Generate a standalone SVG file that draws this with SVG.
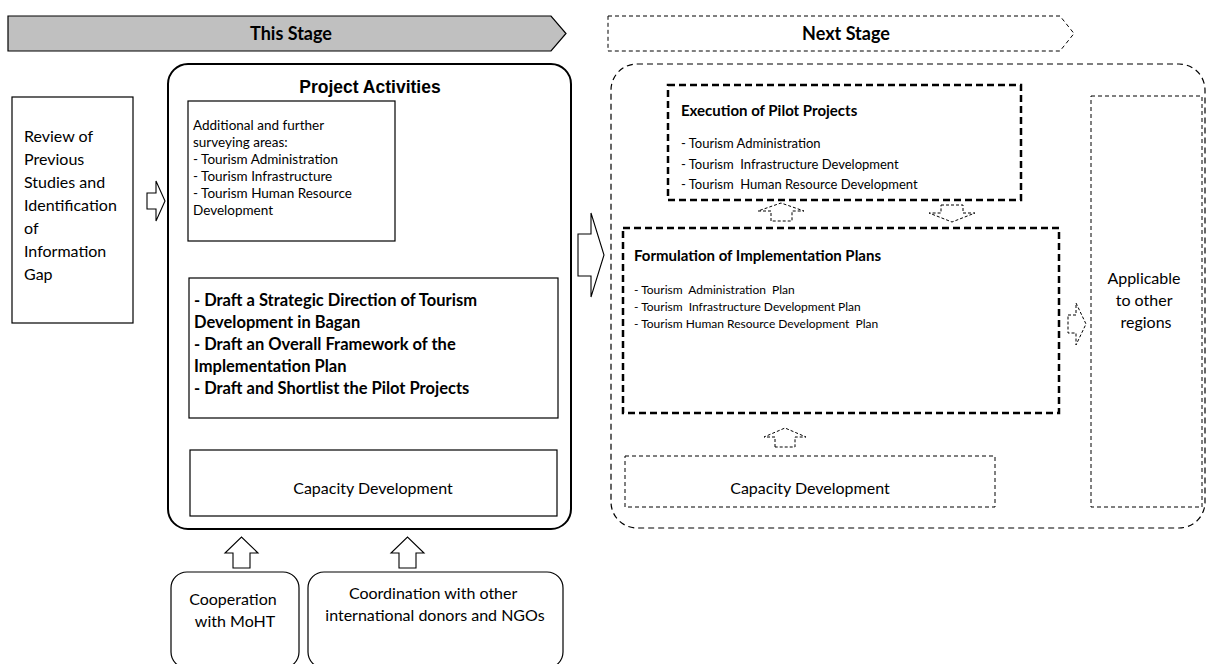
<svg xmlns="http://www.w3.org/2000/svg" width="1208" height="664" viewBox="0 0 1208 664">
<style>
.solid{fill:#fff;stroke:#000;stroke-width:1.2}
.t{font-family:Lato,"Liberation Sans",sans-serif;fill:#000}
.b{font-weight:bold}
.mid{text-anchor:middle}
.thick{fill:#fff;stroke:#000;stroke-width:2.5;stroke-dasharray:7 4}
.outer{fill:none;stroke:#000;stroke-width:1.2;stroke-dasharray:6 4}
.dash{fill:none;stroke:#000;stroke-width:1;stroke-dasharray:4 3}
.arrow{fill:#fff;stroke:#000;stroke-width:1.1;stroke-linejoin:miter}
.darrow{fill:#fff;stroke:#000;stroke-width:1;stroke-dasharray:3 2}
</style>
<rect width="1208" height="664" fill="#fff"/>
<g id="this-stage">
<polygon points="8,16 551,16 566,33.5 551,51 8,51" fill="#c0c0c0" stroke="#000" stroke-width="1.2"/>
<text class="t b mid" x="291" y="40" font-size="18">This Stage</text>
</g>
<g id="next-stage">
<polygon points="608,16 1060,16 1074,33.5 1060,51 608,51" class="dash"/>
<text class="t b mid" x="846" y="40" font-size="18">Next Stage</text>
</g>
<g id="review">
<rect class="solid" x="12" y="97" width="121" height="226"/>
<text class="t" font-size="16">
<tspan x="24" y="142">Review of</tspan>
<tspan x="24" y="165">Previous</tspan>
<tspan x="24" y="188">Studies and</tspan>
<tspan x="24" y="211">Identification</tspan>
<tspan x="24" y="234">of</tspan>
<tspan x="24" y="257">Information</tspan>
<tspan x="24" y="280">Gap</tspan>
</text>
</g>
<g id="project-activities">
<rect x="168" y="64" width="403" height="465" rx="20" fill="#fff" stroke="#000" stroke-width="2"/>
<text x="370" y="93" font-family="Liberation Sans,Arial,sans-serif" font-weight="bold" font-size="17.5" text-anchor="middle">Project Activities</text>
</g>
<g id="surveying">
<rect class="solid" x="188" y="101" width="207" height="140"/>
<text class="t" font-size="13.5">
<tspan x="193" y="130">Additional and further</tspan>
<tspan x="193" y="147">surveying areas:</tspan>
<tspan x="193" y="164">- Tourism Administration</tspan>
<tspan x="193" y="181">- Tourism Infrastructure</tspan>
<tspan x="193" y="198">- Tourism Human Resource</tspan>
<tspan x="193" y="215">Development</tspan>
</text>
</g>
<g id="drafts">
<rect class="solid" x="189" y="278" width="369" height="140"/>
<text class="t b" font-size="16.5">
<tspan x="194" y="306">- Draft a Strategic Direction of Tourism</tspan>
<tspan x="194" y="328">Development in Bagan</tspan>
<tspan x="194" y="350">- Draft an Overall Framework of the</tspan>
<tspan x="194" y="372">Implementation Plan</tspan>
<tspan x="194" y="394">- Draft and Shortlist the Pilot Projects</tspan>
</text>
</g>
<g id="capacity-this">
<rect class="solid" x="190" y="450" width="367" height="66"/>
<text class="t mid" x="373" y="494" font-size="16">Capacity Development</text>
</g>
<g id="cooperation">
<rect class="solid" x="171" y="572" width="128" height="96" rx="16"/>
<text class="t mid" font-size="16">
<tspan x="235" y="605">Cooperation</tspan>
<tspan x="235" y="627">with MoHT</tspan>
</text>
</g>
<g id="coordination">
<rect class="solid" x="308" y="572" width="255" height="96" rx="16"/>
<text class="t mid" font-size="16">
<tspan x="435" y="599">Coordination with other</tspan>
<tspan x="435" y="621">international donors and NGOs</tspan>
</text>
</g>
<g id="next-stage-frame">
<rect class="outer" x="611" y="64" width="594" height="464" rx="26"/>
</g>
<g id="execution">
<rect class="thick" x="668" y="85" width="353" height="115"/>
<text class="t b" x="681" y="116" font-size="15">Execution of Pilot Projects</text>
<text class="t" font-size="13">
<tspan x="681" y="148">- Tourism Administration</tspan>
<tspan x="681" y="169" xml:space="preserve">- Tourism  Infrastructure Development</tspan>
<tspan x="681" y="189" xml:space="preserve">- Tourism  Human Resource Development</tspan>
</text>
</g>
<g id="formulation">
<rect class="thick" x="623" y="228" width="436" height="185"/>
<text class="t b" x="634" y="261" font-size="15">Formulation of Implementation Plans</text>
<text class="t" font-size="12" xml:space="preserve">
<tspan x="634" y="294">- Tourism  Administration  Plan</tspan>
<tspan x="634" y="311">- Tourism  Infrastructure Development Plan</tspan>
<tspan x="634" y="328">- Tourism Human Resource Development  Plan</tspan>
</text>
</g>
<g id="capacity-next">
<rect class="dash" x="625" y="456" width="370" height="51"/>
<text class="t mid" x="810" y="494" font-size="16">Capacity Development</text>
</g>
<g id="applicable">
<rect class="dash" x="1091" y="96" width="111" height="411"/>
<text class="t mid" font-size="16">
<tspan x="1146" y="284">Applicable</tspan>
<tspan x="1146" y="306">to other</tspan>
<tspan x="1146" y="328">regions</tspan>
</text>
</g>
<g id="connectors">
<polygon class="arrow" points="147,193 156,193 156,181 165,201 156,221 156,209 147,209"/>
<polygon class="arrow" points="578,234 591,234 591,213 604,255 591,297 591,276 578,276"/>
<polygon class="arrow" points="233,568 233,553 225,553 241.5,537 258,553 250,553 250,568"/>
<polygon class="arrow" points="399,568 399,553 391,553 407.5,537 424,553 416,553 416,568"/>
<polygon class="darrow" points="771,221 771,211 758,211 781,203 804,211 792,211 792,221"/>
<polygon class="darrow" points="941,205 963,205 963,213 975,213 952,222 929,213 941,213"/>
<polygon class="darrow" points="775,447 775,437 764,437 785,428 806,437 795,437 795,447"/>
<polygon class="darrow" points="1068,315 1076,315 1076,303 1086,324 1076,345 1076,333 1068,333"/>
</g>
</svg>
